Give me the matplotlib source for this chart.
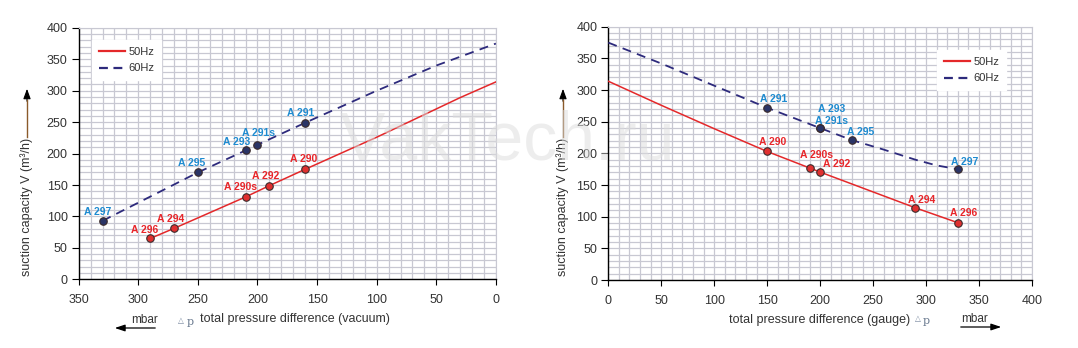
import matplotlib
matplotlib.use("Agg")
import matplotlib.pyplot as plt
from matplotlib.ticker import MultipleLocator
from matplotlib.lines import Line2D
from matplotlib.patches import FancyArrowPatch

plt.rcParams["font.family"] = ["Liberation Sans", "DejaVu Sans"]

# --- vacuum side (left) ---
vac_50_x = [290, 270, 210, 190, 160, 100, 50, 30, 0]
vac_50_y = [65, 81, 131, 149, 175, 226, 271, 289, 314]
vac_60_x = [330, 250, 210, 200, 160, 100, 50, 0]
vac_60_y = [93, 170, 205, 214, 249, 300, 340, 375]

vac_50_pts = ["A 296", "A 294", "A 290s", "A 292", "A 290"]
vac_50_px = [290, 270, 210, 190, 160]
vac_50_py = [65, 81, 131, 149, 175]
vac_60_pts = ["A 297", "A 295", "A 293", "A 291s", "A 291"]
vac_60_px = [330, 250, 210, 200, 160]
vac_60_py = [93, 170, 205, 214, 249]

# --- gauge side (right) ---
gau_50_x = [0, 50, 100, 150, 190, 200, 290, 330]
gau_50_y = [314, 276, 239, 203, 177, 170.5, 114, 90.5]
gau_60_x = [0, 50, 100, 150, 200, 230, 260, 290, 310, 330]
gau_60_y = [375, 342, 307, 272, 240, 221, 206, 190, 181, 175]

gau_50_pts = ["A 290", "A 290s", "A 292", "A 294", "A 296"]
gau_50_px = [150, 190, 200, 290, 330]
gau_50_py = [203, 177, 170.5, 114, 90.5]
gau_60_pts = ["A 291", "A 293", "A 291s", "A 295", "A 297"]
gau_60_px = [150, 200, 200, 230, 330]
gau_60_py = [272, 240, 240, 221, 175]

# label offsets in pixels (dx, dy) from the marker
vac_50_off = [(-6, 8), (-3, 9), (-5, 10), (-4, 10), (-2, 10)]
vac_60_off = [(-5, 9), (-6, 9), (-9, 8), (1, 12), (-5, 10)]
gau_50_off = [(5, 9), (7, 13), (16, 8), (6, 8), (6, 10)]
gau_60_off = [(6, 9), (11, 19), (11, 7), (9, 8), (7, 7)]

RED = "#e4282a"
NAVY = "#2d2a7c"
LBL_RED = "#e8262a"
LBL_BLUE = "#1e8bd0"
GRID = "#c8c8d2"
TXT = "#333333"
FS = 9

fig = plt.figure(figsize=(10.78, 3.48), dpi=100)
ax_l = fig.add_axes([0.073, 0.1974, 0.387, 0.7226])
ax_r = fig.add_axes([0.5643, 0.1954, 0.393, 0.7276])

PX = 72 / 100  # pixel -> points


def style_axes(ax):
    ax.set_ylim(0, 400)
    ax.xaxis.set_major_locator(MultipleLocator(50))
    ax.xaxis.set_minor_locator(MultipleLocator(10))
    ax.yaxis.set_major_locator(MultipleLocator(50))
    ax.yaxis.set_minor_locator(MultipleLocator(10))
    ax.grid(True, which="both", color=GRID, lw=0.9)
    ax.set_axisbelow(True)
    for side in ("top", "right"):
        ax.spines[side].set_color(GRID)
    for side in ("left", "bottom"):
        ax.spines[side].set_color("black")
        ax.spines[side].set_linewidth(1.0)
    ax.tick_params(which="minor", length=0)
    ax.tick_params(axis="x", which="major", length=4, pad=6.5, labelsize=FS,
                   labelcolor=TXT, direction="out")
    ax.tick_params(axis="y", which="major", length=5, pad=3, labelsize=FS,
                   labelcolor=TXT, direction="out")


def draw_points(ax, xs, ys, names, offs, fill, lbl_color):
    ax.plot(xs, ys, "o", ms=5.4, mfc=fill, mec="#3a2a2a", mew=0.8, zorder=5)
    for x, y, name, (dx, dy) in zip(xs, ys, names, offs):
        ax.annotate(name, (x, y), xytext=(dx * PX, dy * PX),
                    textcoords="offset points", ha="center", va="center",
                    fontsize=7.5, fontweight="bold", color=lbl_color, zorder=6)


def add_legend(ax, anchor):
    handles = [Line2D([], [], color=RED, lw=1.6),
               Line2D([], [], color=NAVY, lw=1.6, dashes=(4, 2.5))]
    leg = ax.legend(handles, ["50Hz", "60Hz"], loc="upper left",
                    bbox_to_anchor=anchor, fontsize=8, frameon=True,
                    fancybox=False, handlelength=2.4, handletextpad=0.3,
                    labelspacing=0.6, borderpad=0.6, borderaxespad=0)
    leg.get_frame().set_facecolor("white")
    leg.get_frame().set_edgecolor("white")
    leg.get_frame().set_alpha(1)
    for t in leg.get_texts():
        t.set_color(TXT)


# left: vacuum
style_axes(ax_l)
ax_l.set_xlim(350, 0)
ax_l.plot(vac_50_x, vac_50_y, color=RED, lw=1.1, zorder=3)
ax_l.plot(vac_60_x, vac_60_y, color=NAVY, lw=1.3, dashes=(5, 3.5), zorder=3)
draw_points(ax_l, vac_50_px, vac_50_py, vac_50_pts, vac_50_off, "#e03030", LBL_RED)
draw_points(ax_l, vac_60_px, vac_60_py, vac_60_pts, vac_60_off, "#2a3466", LBL_BLUE)
add_legend(ax_l, (0.032, 0.951))

# right: gauge
style_axes(ax_r)
ax_r.set_xlim(0, 400)
ax_r.plot(gau_50_x, gau_50_y, color=RED, lw=1.1, zorder=3)
ax_r.plot(gau_60_x, gau_60_y, color=NAVY, lw=1.3, dashes=(5, 3.5), zorder=3)
draw_points(ax_r, gau_50_px, gau_50_py, gau_50_pts, gau_50_off, "#e03030", LBL_RED)
draw_points(ax_r, gau_60_px, gau_60_py, gau_60_pts, gau_60_off, "#2a3466", LBL_BLUE)
add_legend(ax_r, (0.776, 0.908))

W, H = 1078, 348


def fx(px):
    return px / W


def fy(py):
    return 1 - py / H


def fig_arrow(x0, y0, x1, y1, **kw):
    fig.patches.append(FancyArrowPatch((fx(x0), fy(y0)), (fx(x1), fy(y1)),
                                       transform=fig.transFigure, **kw))


# y axis captions with upward arrows
for xc in (27, 563):
    fig.text(fx(xc), fy(207), "suction capacity V (m³/h)", rotation=90,
             ha="center", va="center", fontsize=FS, color=TXT)
    fig.add_artist(Line2D([fx(xc), fx(xc)], [fy(137), fy(100)],
                          color="#8a5a2a", lw=1.0))
    fig_arrow(xc, 104, xc, 86, arrowstyle="-|>,head_length=6,head_width=2.2",
              color="black", lw=0.8)

# x axis captions
fig.text(fx(200), fy(319), "total pressure difference (vacuum)",
         ha="left", va="center", fontsize=FS, color=TXT)
fig.text(fx(178), fy(320), "△", ha="left", va="center", fontsize=5.5,
         color="#7a8aa0", family="DejaVu Sans")
fig.text(fx(187), fy(322), "p", ha="left", va="center", fontsize=8,
         color="#6a7a90", family="DejaVu Serif")
fig.text(fx(145), fy(320), "mbar", ha="center", va="center", fontsize=8.5,
         color=TXT)
fig_arrow(158, 328, 112, 328, arrowstyle="-|>,head_length=6,head_width=2",
          color="black", lw=0.9)

fig.text(fx(910), fy(320), "total pressure difference (gauge)",
         ha="right", va="center", fontsize=FS, color=TXT)
fig.text(fx(915), fy(318), "△", ha="left", va="center", fontsize=5.5,
         color="#7a8aa0", family="DejaVu Sans")
fig.text(fx(923), fy(321), "p", ha="left", va="center", fontsize=8,
         color="#6a7a90", family="DejaVu Serif")
fig.text(fx(975), fy(319), "mbar", ha="center", va="center", fontsize=8.5,
         color=TXT)
fig_arrow(958, 327, 1004, 327, arrowstyle="-|>,head_length=6,head_width=2",
          color="black", lw=0.9)

# watermark
fig.text(fx(340), fy(160), "VakTech.ru", ha="left", va="baseline",
         fontsize=49, color="#dcdcdc", alpha=0.5, zorder=10)

fig.savefig("out.png", dpi=100, facecolor="white")
